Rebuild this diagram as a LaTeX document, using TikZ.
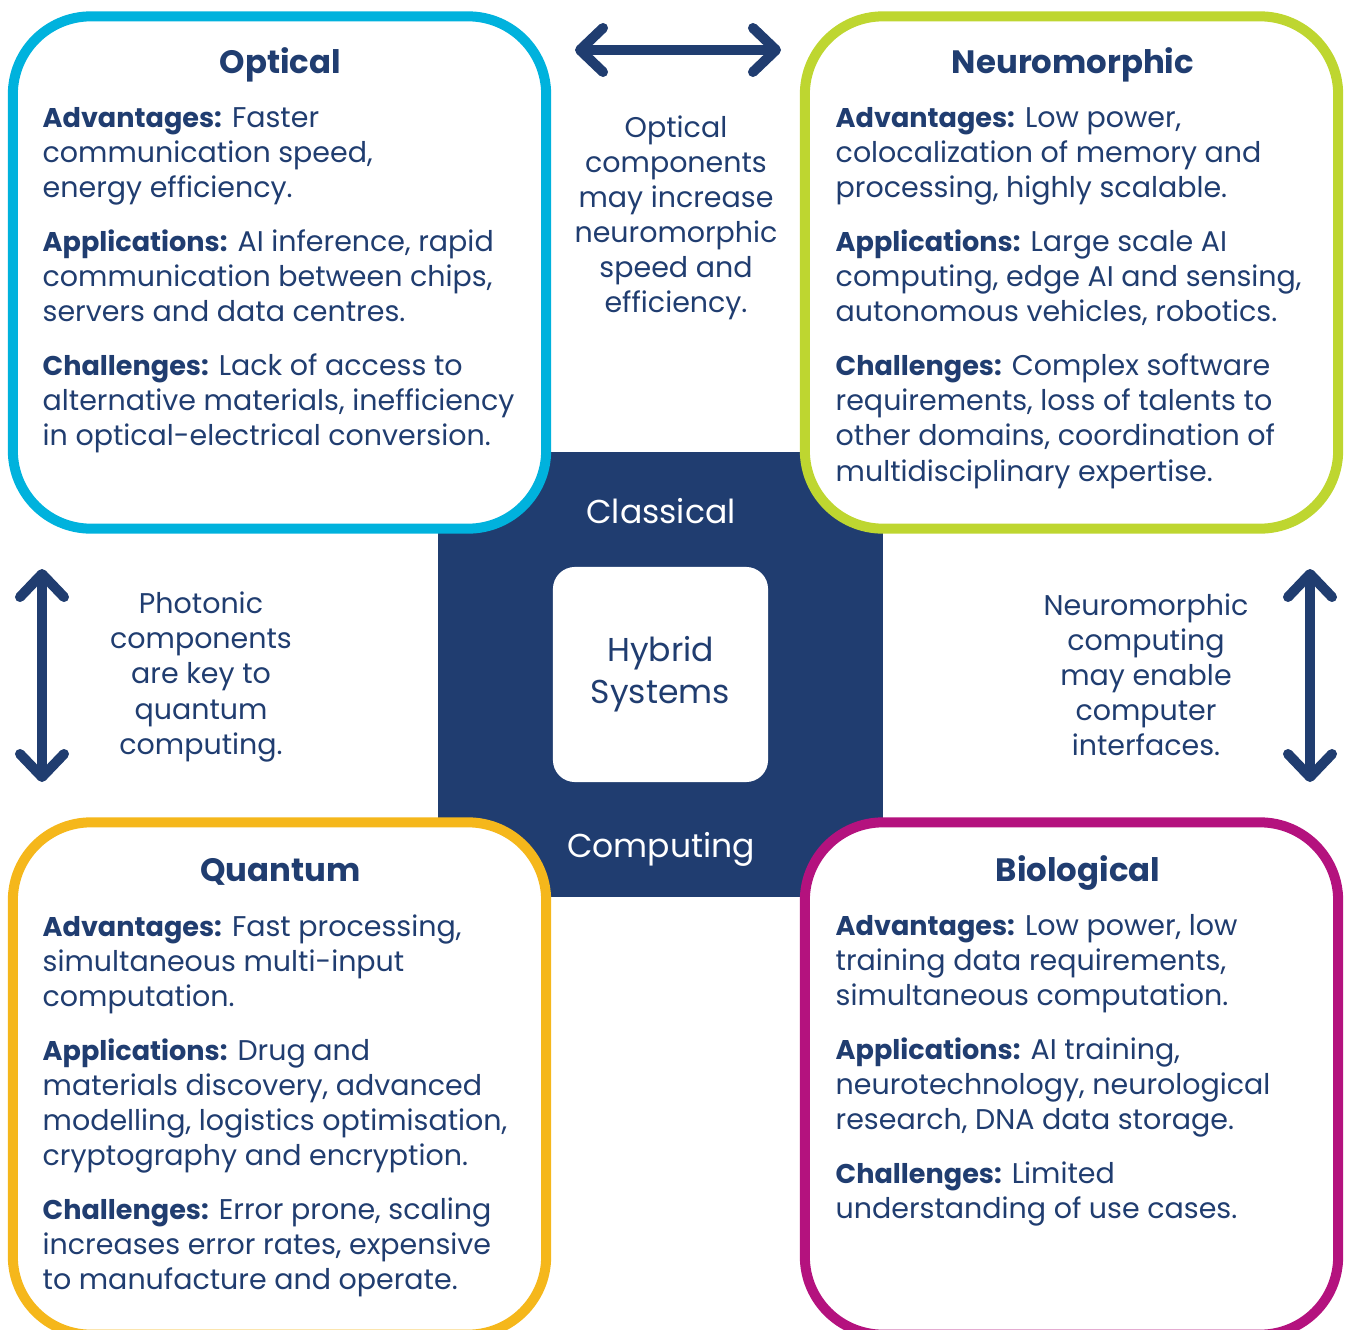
\documentclass[tikz,border=0pt]{standalone}
\usepackage{fontspec}
\setmainfont{Poppins}
\usetikzlibrary{arrows.meta,positioning,calc}
\definecolor{navy}{HTML}{203D70}
\definecolor{optcyan}{HTML}{00B2DD}
\definecolor{neulime}{HTML}{BED630}
\definecolor{quaorange}{HTML}{F5B71B}
\definecolor{biomagenta}{HTML}{B4127E}
\newcommand{\parskipgap}{\\[0.19cm]}
\newcommand{\lbl}[1]{{\fontsize{7.7pt}{9.96pt}\selectfont\bfseries #1}}
\tikzset{
  area/.style={draw=#1, line width=0.1cm, fill=white, rounded corners=0.78cm,
    minimum width=5.33cm, minimum height=5.12cm},
  areatitle/.style={font=\fontsize{9.2pt}{11pt}\selectfont\bfseries, text=navy,
    inner sep=0pt, anchor=base},
  body/.style={font=\fontsize{8.1pt}{9.96pt}\selectfont, text=navy, align=left,
    inner sep=0pt, anchor=north west},
  note/.style={font=\fontsize{8.1pt}{9.96pt}\selectfont, text=navy, align=center,
    inner sep=0pt},
  link/.style={navy, line width=0.1cm, line cap=round,
    {Straight Barb[round,length=2.3mm,width=4.4mm]}-{Straight Barb[round,length=2.3mm,width=4.4mm]}},
}
\begin{document}
\begin{tikzpicture}[x=0.01cm,y=-0.01cm]
    \useasboundingbox (0,0) rectangle (1351,1330);
    \clip (0,0) rectangle (1351,1330); % bottom boxes run off the page
    % centre: classical computing around hybrid systems
    \node[fill=navy, minimum size=4.45cm, inner sep=0pt] (core) at (660.5,674.5) {};
    \node[fill=white, rounded corners=0.22cm, minimum size=2.15cm, inner sep=0pt,
      font=\fontsize{9.4pt}{12pt}\selectfont, text=navy, align=center] (hybrid) at (660.5,674.5) {Hybrid\\Systems};
    \node[font=\fontsize{9.4pt}{12pt}\selectfont, text=white, anchor=base] (classical) at (661,523) {Classical};
    \node[font=\fontsize{9.4pt}{12pt}\selectfont, text=white, anchor=base] (computing) at (661,857) {Computing};
    % the four areas
    \node[area=optcyan]    (opt) at (279.5,272.5) {};
    \node[area=neulime]    (neu) at (1071.5,272.5) {};
    \node[area=quaorange]  (qua) at (279.5,1078.5) {};
    \node[area=biomagenta] (bio) at (1071.5,1078.5) {};
    \node[areatitle] (optTitle) at (280.5,73) {Optical};
    \node[areatitle] (neuTitle) at (1073,73) {Neuromorphic};
    \node[areatitle] (quaTitle) at (280.5,881) {Quantum};
    \node[areatitle] (bioTitle) at (1078,881) {Biological};
    \node[body] (optText) at (42,107) {%
      \lbl{Advantages:} Faster\\
      communication speed,\\
      energy efficiency.\parskipgap
      \lbl{Applications:} AI inference, rapid\\
      communication between chips,\\
      servers and data centres.\parskipgap
      \lbl{Challenges:} Lack of access to\\
      alternative materials, inefficiency\\
      in optical-electrical conversion.};
    \node[body] (neuText) at (835,107) {%
      \lbl{Advantages:} Low power,\\
      colocalization of memory and\\
      processing, highly scalable.\parskipgap
      \lbl{Applications:} Large scale AI\\
      computing, edge AI and sensing,\\
      autonomous vehicles, robotics.\parskipgap
      \lbl{Challenges:} Complex software\\
      requirements, loss of talents to\\
      other domains, coordination of\\
      multidisciplinary expertise.};
    \node[body] (quaText) at (42,914) {%
      \lbl{Advantages:} Fast processing,\\
      simultaneous multi-input\\
      computation.\parskipgap
      \lbl{Applications:} Drug and\\
      materials discovery, advanced\\
      modelling, logistics optimisation,\\
      cryptography and encryption.\parskipgap
      \lbl{Challenges:} Error prone, scaling\\
      increases error rates, expensive\\
      to manufacture and operate.};
    \node[body] (bioText) at (835,914) {%
      \lbl{Advantages:} Low power, low\\
      training data requirements,\\
      simultaneous computation.\parskipgap
      \lbl{Applications:} AI training,\\
      neurotechnology, neurological\\
      research, DNA data storage.\parskipgap
      \lbl{Challenges:} Limited\\
      understanding of use cases.};
    % links between the areas
    \coordinate (optEnd) at (575,50);
    \coordinate (neuEnd) at (781,50);
    \coordinate (optDown) at (42,569);
    \coordinate (quaUp)   at (42,782);
    \coordinate (neuDown) at (1310,569);
    \coordinate (bioUp)   at (1310,782);
    \draw[link] (optEnd) -- (neuEnd);
    \draw[link] (optDown) -- (quaUp);
    \draw[link] (neuDown) -- (bioUp);
    \node[note] (optNeu) at (676,218) {Optical\\components\\may increase\\neuromorphic\\speed and\\efficiency.};
    \node[note] (optQua) at (201,677) {Photonic\\components\\are key to\\quantum\\computing.};
    \node[note] (neuBio) at (1146,675) {Neuromorphic\\computing\\may enable\\computer\\interfaces.};
\end{tikzpicture}
\end{document}
